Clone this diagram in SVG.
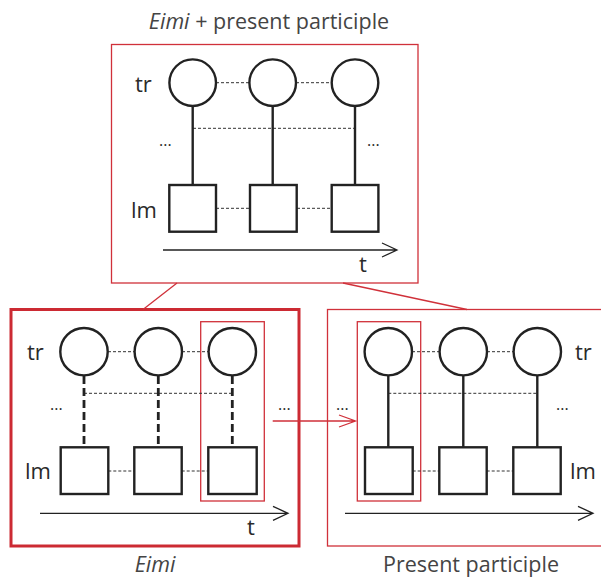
<svg xmlns="http://www.w3.org/2000/svg" width="601" height="578" viewBox="0 0 601 578">
<defs>
<style>
.lbl{font-family:"Open Sans","Liberation Sans",sans-serif;font-weight:400;font-size:22px;fill:#2a2a2a}
.ell{font-family:"Open Sans","Liberation Sans",sans-serif;font-weight:400;font-size:16px;fill:#2a2a2a}
.cap{font-family:"Open Sans","Liberation Sans",sans-serif;font-weight:400;font-size:21.5px;fill:#444}
.node{fill:#fff;stroke:#222;stroke-width:2.4}
.solid{stroke:#222;stroke-width:2.4;fill:none}
.dash{stroke:#222;stroke-width:2.8;stroke-dasharray:8 4;fill:none}
.dot{stroke:#333;stroke-width:1;stroke-dasharray:3 2;fill:none}
.axis{stroke:#222;stroke-width:1.3;fill:none}
.red{stroke:#d0313a;stroke-width:1.3;fill:none}
.redthick{stroke:#cc2a33;stroke-width:3;fill:none}
</style>
</defs>
<rect width="601" height="578" fill="#fff"/>

<!-- top panel -->
<g id="panel-top">
<text class="cap" x="269" y="29" text-anchor="middle"><tspan font-style="italic">Eimi</tspan> + present participle</text>
<rect class="red" x="111.5" y="44.5" width="306.5" height="238.5"/>
<text class="lbl" x="135" y="92">tr</text>
<text class="lbl" x="131" y="218">lm</text>
<text class="ell" x="159" y="146">...</text>
<text class="ell" x="367" y="146">...</text>
<line class="dot" x1="216" y1="82.7" x2="249" y2="82.7"/>
<line class="dot" x1="296" y1="82.7" x2="331" y2="82.7"/>
<line class="dot" x1="193" y1="128.3" x2="355" y2="128.3"/>
<line class="dot" x1="216" y1="208.3" x2="250" y2="208.3"/>
<line class="dot" x1="297" y1="208.3" x2="332" y2="208.3"/>
<line class="solid" x1="192.7" y1="106" x2="192.7" y2="185"/>
<line class="solid" x1="272.7" y1="106" x2="272.7" y2="185"/>
<line class="solid" x1="355" y1="106" x2="355" y2="185"/>
<circle class="node" cx="192.7" cy="82.7" r="23.3"/>
<circle class="node" cx="272.7" cy="82.7" r="23.3"/>
<circle class="node" cx="355" cy="82.7" r="23.3"/>
<rect class="node" x="169.3" y="185" width="46.7" height="46.7"/>
<rect class="node" x="250" y="185" width="46.7" height="46.7"/>
<rect class="node" x="331.7" y="185" width="46.7" height="46.7"/>
<path class="axis" d="M163 250H397M382 243L397 250L382 257"/>
<text class="lbl" x="359" y="272">t</text>
</g>

<!-- bottom left panel -->
<g id="panel-eimi">
<rect class="redthick" x="11" y="309.5" width="288" height="236.5"/>
<rect class="red" x="200.7" y="321.7" width="63.6" height="179.3"/>
<text class="lbl" x="27" y="360">tr</text>
<text class="lbl" x="25" y="479">lm</text>
<text class="ell" x="50" y="410">...</text>
<text class="ell" x="278" y="410">...</text>
<line class="dot" x1="108" y1="351.7" x2="134" y2="351.7"/>
<line class="dot" x1="182" y1="351.7" x2="208" y2="351.7"/>
<line class="dot" x1="84" y1="393.3" x2="232.3" y2="393.3"/>
<line class="dot" x1="108.3" y1="471" x2="134.3" y2="471"/>
<line class="dot" x1="181.7" y1="471" x2="208.3" y2="471"/>
<line class="dash" x1="84" y1="376" x2="84" y2="447.3"/>
<line class="dash" x1="158.3" y1="376" x2="158.3" y2="447.3"/>
<line class="dash" x1="232.3" y1="376" x2="232.3" y2="447.3"/>
<circle class="node" cx="84" cy="351.7" r="23.7"/>
<circle class="node" cx="158.3" cy="351.7" r="23.7"/>
<circle class="node" cx="232.3" cy="351.7" r="23.7"/>
<rect class="node" x="60.7" y="447.3" width="47.6" height="46.7"/>
<rect class="node" x="134.3" y="447.3" width="47.4" height="46.7"/>
<rect class="node" x="208.3" y="447.3" width="48.4" height="46.7"/>
<path class="axis" d="M40 513.3H288M273 506.3L288 513.3L273 520.3"/>
<text class="lbl" x="247" y="535">t</text>
<text class="cap" x="155" y="572" text-anchor="middle" font-style="italic">Eimi</text>
</g>

<!-- bottom right panel -->
<g id="panel-participle">
<rect class="red" x="327.5" y="309.5" width="290" height="236.5"/>
<rect class="red" x="357.3" y="321.7" width="63.4" height="179.3"/>
<text class="lbl" x="575" y="360">tr</text>
<text class="lbl" x="570" y="479">lm</text>
<text class="ell" x="336" y="410">...</text>
<text class="ell" x="556" y="410">...</text>
<line class="dot" x1="412" y1="351.7" x2="440" y2="351.7"/>
<line class="dot" x1="487" y1="351.7" x2="514" y2="351.7"/>
<line class="dot" x1="388.3" y1="393.3" x2="537.3" y2="393.3"/>
<line class="dot" x1="412.7" y1="471" x2="439.3" y2="471"/>
<line class="dot" x1="486.7" y1="471" x2="513.3" y2="471"/>
<line class="solid" x1="388.3" y1="376" x2="388.3" y2="447.3"/>
<line class="solid" x1="463.3" y1="376" x2="463.3" y2="447.3"/>
<line class="solid" x1="537.3" y1="376" x2="537.3" y2="447.3"/>
<circle class="node" cx="388.3" cy="351.7" r="23.7"/>
<circle class="node" cx="463.3" cy="351.7" r="23.7"/>
<circle class="node" cx="537.3" cy="351.7" r="23.7"/>
<rect class="node" x="365" y="447.3" width="47.7" height="46.7"/>
<rect class="node" x="439.3" y="447.3" width="47.4" height="46.7"/>
<rect class="node" x="513.3" y="447.3" width="47.4" height="46.7"/>
<path class="axis" d="M345 513.3H593M578 506.3L593 513.3L578 520.3"/>
<text class="cap" x="471" y="572" text-anchor="middle">Present participle</text>
</g>

<!-- connectors -->
<g id="connectors">
<line class="red" x1="177" y1="283" x2="143" y2="309.5"/>
<line class="red" x1="343" y1="283" x2="467" y2="309.5"/>
<path class="red" d="M272.7 421H355.5M339 415L355.5 421L339 427"/>
</g>
</svg>
